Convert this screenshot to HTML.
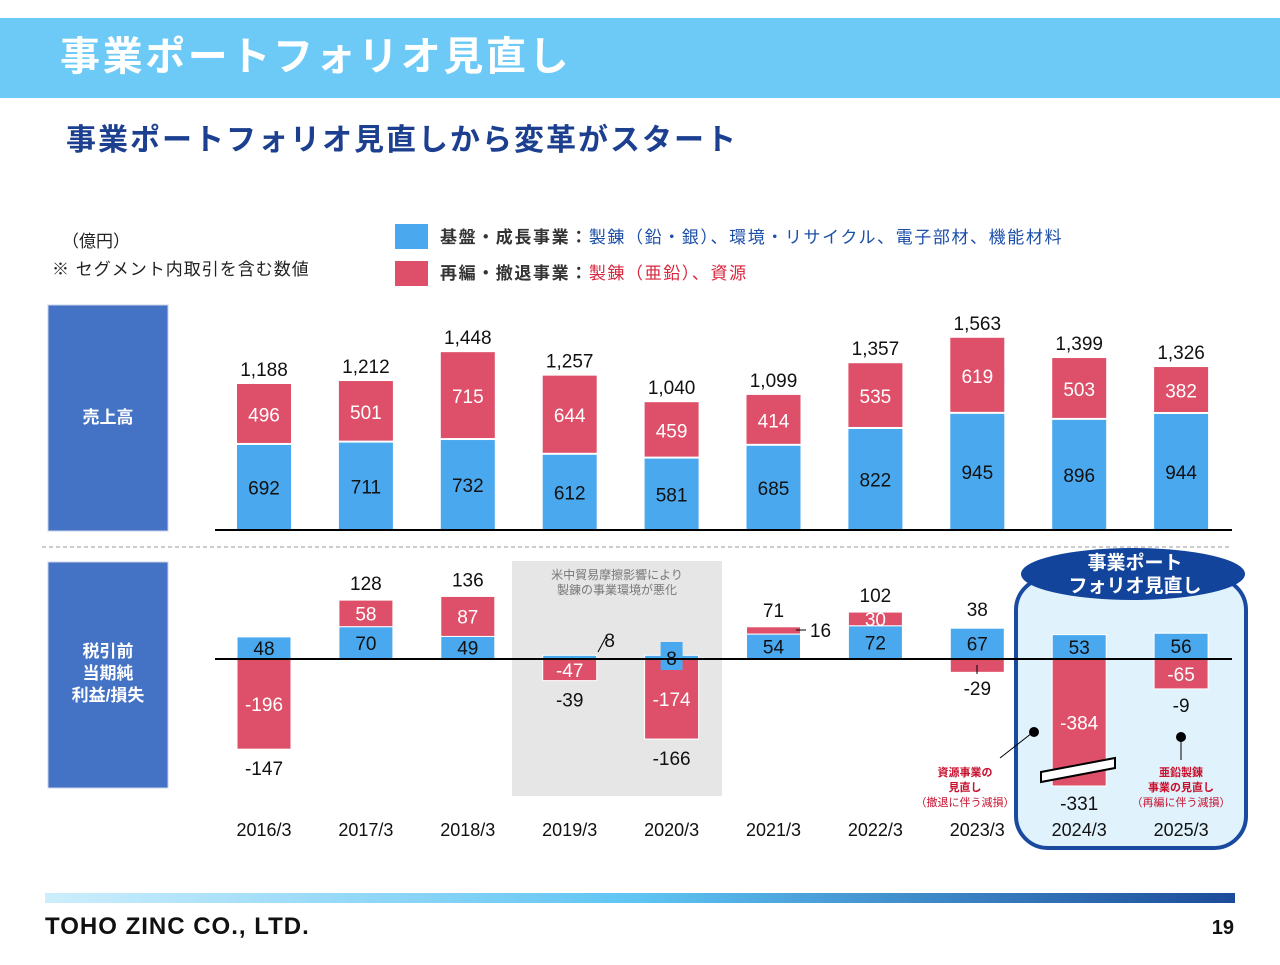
<!DOCTYPE html>
<html><head><meta charset="utf-8">
<style>
body{margin:0;width:1280px;height:960px;background:#fff;overflow:hidden;font-family:"Liberation Sans","Noto Sans CJK JP",sans-serif;}
svg text{font-family:"Liberation Sans","Noto Sans CJK JP",sans-serif;}
</style></head><body>
<svg width="1280" height="960" xmlns="http://www.w3.org/2000/svg">
<rect x="0" y="18" width="1280" height="80" fill="#6dcaf6"/>
<text x="60" y="70" font-size="40" font-weight="bold" fill="#fff" letter-spacing="2.6">事業ポートフォリオ見直し</text>
<text x="66" y="150" font-size="30" font-weight="bold" fill="#1c3f8f" letter-spacing="2">事業ポートフォリオ見直しから変革がスタート</text>
<text x="62" y="247" font-size="17" fill="#222">（億円）</text>
<text x="52" y="275" font-size="17" fill="#222" letter-spacing="1">※ セグメント内取引を含む数値</text>
<rect x="395" y="224" width="33" height="25" fill="#4aa8ee"/>
<text x="440" y="243" font-size="17" letter-spacing="1.6"><tspan font-weight="bold" fill="#333">基盤・成長事業：</tspan><tspan fill="#1c4fa8">製錬（鉛・銀）、環境・リサイクル、電子部材、機能材料</tspan></text>
<rect x="395" y="261" width="33" height="25" fill="#de506a"/>
<text x="440" y="279" font-size="17" letter-spacing="1.6"><tspan font-weight="bold" fill="#333">再編・撤退事業：</tspan><tspan fill="#d8263d">製錬（亜鉛）、資源</tspan></text>
<rect x="48" y="305" width="120" height="226" fill="#4472c4" stroke="#c9d3e8"/>
<text x="108" y="423" font-size="17" font-weight="bold" fill="#fff" text-anchor="middle">売上高</text>
<rect x="48" y="562" width="120" height="226" fill="#4472c4" stroke="#c9d3e8"/>
<text x="108" y="657" font-size="17" font-weight="bold" fill="#fff" text-anchor="middle"><tspan x="108">税引前</tspan><tspan x="108" dy="22">当期純</tspan><tspan x="108" dy="22">利益/損失</tspan></text>
<line x1="42" y1="547" x2="1232" y2="547" stroke="#999" stroke-dasharray="4,3"/>
<rect x="512" y="561" width="210" height="235" fill="#e6e6e6"/>
<text x="617" y="579" font-size="12" fill="#777" text-anchor="middle"><tspan x="617">米中貿易摩擦影響により</tspan><tspan x="617" dy="15">製錬の事業環境が悪化</tspan></text>
<rect x="1016" y="578" width="230" height="270" rx="32" fill="#e0f3fc" stroke="#1a4a9f" stroke-width="4"/>
<ellipse cx="1133" cy="574" rx="112" ry="26" fill="#12449b"/>
<text x="1135" y="569" font-size="19" font-weight="bold" fill="#fff" text-anchor="middle"><tspan x="1135">事業ポート</tspan><tspan x="1135" dy="23">フォリオ見直し</tspan></text>
<g id="topg"></g>
<g id="botg"></g>
<line x1="598" y1="652" x2="606" y2="637" stroke="#000"/>
<line x1="796" y1="630" x2="806" y2="630" stroke="#000"/>
<line x1="977" y1="665" x2="977" y2="674" stroke="#000"/>
<line x1="1032" y1="733" x2="1000" y2="758" stroke="#000"/>
<circle cx="1034" cy="732" r="5" fill="#000"/>
<text x="965" y="776" font-size="11" font-weight="bold" fill="#c8102e" text-anchor="middle"><tspan x="965">資源事業の</tspan><tspan x="965" dy="15">見直し</tspan><tspan x="965" dy="15" font-weight="normal">（撤退に伴う減損）</tspan></text>
<line x1="1181" y1="737" x2="1181" y2="760" stroke="#000"/>
<circle cx="1181" cy="737" r="5" fill="#000"/>
<text x="1181" y="776" font-size="11" font-weight="bold" fill="#c8102e" text-anchor="middle"><tspan x="1181">亜鉛製錬</tspan><tspan x="1181" dy="15">事業の見直し</tspan><tspan x="1181" dy="15" font-weight="normal">（再編に伴う減損）</tspan></text>
<defs><linearGradient id="fg" x1="0" x2="1"><stop offset="0" stop-color="#cdeefc"/><stop offset="0.5" stop-color="#5ec4f3"/><stop offset="1" stop-color="#1c4b9a"/></linearGradient></defs>
<rect x="45" y="893" width="1190" height="10" fill="url(#fg)"/>
<text x="45" y="934" font-size="24" font-weight="bold" fill="#111" letter-spacing="1">TOHO ZINC CO., LTD.</text>
<text x="1234" y="934" font-size="20" font-weight="bold" fill="#111" text-anchor="end">19</text>
</svg>
<script>
const years=["2016/3","2017/3","2018/3","2019/3","2020/3","2021/3","2022/3","2023/3","2024/3","2025/3"];
const salesGrowth=[692,711,732,612,581,685,822,945,896,944];
const salesRestr=[496,501,715,644,459,414,535,619,503,382];
const salesTotal=[1188,1212,1448,1257,1040,1099,1357,1563,1399,1326];
const profGrowth=[48,70,49,8,8,54,72,67,53,56];
const profRestr=[-196,58,87,-47,-174,16,30,-29,-384,-65];
const profTotal=[-147,128,136,-39,-166,71,102,38,-331,-9];
const NS="http://www.w3.org/2000/svg";
const BLUE="#4aa8ee",RED="#de506a";
function xc(i){return 264+i*101.9;}
const bw=54;
function ys(v){return 530-v*0.1229;}
function yp(v){return 659-v*0.46;}
function mk(p,tag,a){const e=document.createElementNS(NS,tag);for(const k in a)e.setAttribute(k,a[k]);p.appendChild(e);return e;}
function tx(p,x,y,s,fill,size){const t=mk(p,"text",{x:x,y:y,"text-anchor":"middle","font-size":size||19,fill:fill});t.textContent=s;return t;}
const topG=document.getElementById("topg");
years.forEach((yr,i)=>{
  const x=xc(i)-bw/2;
  const b=mk(topG,"rect",{x:x,y:ys(salesGrowth[i]),width:bw,height:530-ys(salesGrowth[i]),fill:BLUE});
  
  
  const r=mk(topG,"rect",{x:x,y:ys(salesGrowth[i]+salesRestr[i]),width:bw,height:salesRestr[i]*0.1229-2,fill:RED});
  
  
  const t1=tx(topG,xc(i),(ys(salesGrowth[i])+530)/2+7,salesGrowth[i],"#111");
  
  
  const t2=tx(topG,xc(i),(ys(salesGrowth[i])+ys(salesGrowth[i]+salesRestr[i]))/2+7,salesRestr[i],"#fff");
  
  
  const t3=tx(topG,xc(i),ys(salesTotal[i])-8,salesTotal[i].toLocaleString("en-US"),"#111");
  
  
});
const ax=mk(topG,"line",{x1:215,y1:530,x2:1232,y2:530,stroke:"#000","stroke-width":2});


const botG=document.getElementById("botg");
const clipBottom=786;
years.forEach((yr,i)=>{
  const x=xc(i)-bw/2,g=profGrowth[i],r=profRestr[i];
  let r0,r1;
  if(r>=0){r0=yp(g+r);r1=yp(g);}else{r0=659;r1=Math.min(yp(r),clipBottom);}
  const rr=mk(botG,"rect",{x:x,y:r0,width:bw,height:r1-r0,fill:RED,stroke:"#fff","stroke-width":1});
  
  
  const bb=mk(botG,"rect",{x:x,y:yp(g),width:bw,height:659-yp(g),fill:BLUE,stroke:"#fff","stroke-width":1});
  
  
  if(i==4){
    const lb=mk(botG,"rect",{x:xc(i)-11,y:642,width:22,height:28,fill:BLUE});
    
    
  }
  let gx=xc(i),gyy=(yp(g)+659)/2+7;
  if(g<15){ if(i==3){gx=xc(i)+40;gyy=647;} else {gyy=665;} }
  const gl=tx(botG,gx,gyy,g,"#111");
  
  
  let ry=(r0+r1)/2+7;
  if(i==7||i==5)ry=null;
  if(ry!==null){
    const rl=tx(botG,xc(i),ry,r,"#fff");
    
    
  }
  let ty=profTotal[i]>=0?Math.min(yp(Math.max(g,g+r)),yp(g))-10:Math.max(r1,659)+26;
  if(i==7)ty=yp(g)-12;
  if(i==9)ty=712;
  if(i==8)ty=810;
  const tl=tx(botG,xc(i),ty,profTotal[i],"#111");
  
  
  const xl=tx(botG,xc(i),836,yr,"#111",18);
  
  
});
const l16=tx(botG,xc(5)+47,637,profRestr[5],"#111");


const l29=tx(botG,xc(7),695,profRestr[7],"#111");


const ax2=mk(botG,"line",{x1:215,y1:659,x2:1232,y2:659,stroke:"#000","stroke-width":2});


const br=mk(botG,"polygon",{points:"1041,772 1115,758 1115,768 1041,782",fill:"#fff",stroke:"#000","stroke-width":2});


</script>
</body></html>
